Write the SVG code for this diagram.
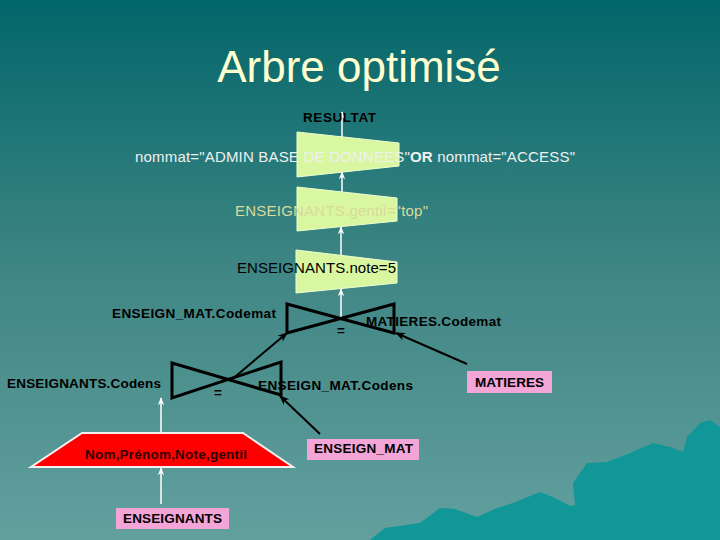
<svg xmlns="http://www.w3.org/2000/svg" width="720" height="540" viewBox="0 0 720 540">
<defs>
<linearGradient id="bg" x1="0" y1="0" x2="0" y2="1">
<stop offset="0" stop-color="#02666A"/>
<stop offset="0.5" stop-color="#3F8684"/>
<stop offset="1" stop-color="#62A09E"/>
</linearGradient>
<marker id="wa" viewBox="0 0 10 10" refX="9" refY="5" markerWidth="8" markerHeight="8" markerUnits="userSpaceOnUse" orient="auto">
<path d="M0,1 L10,5 L0,9 L3,5 Z" fill="#FFFFFF"/>
</marker>
<marker id="ba" viewBox="0 0 10 10" refX="9" refY="5" markerWidth="10" markerHeight="10" markerUnits="userSpaceOnUse" orient="auto">
<path d="M0,1 L10,5 L0,9 L3,5 Z" fill="#000000"/>
</marker>
</defs>
<style>
.t{font-family:"Liberation Sans",Arial,sans-serif}
.b{font-family:"Liberation Sans",Arial,sans-serif;font-weight:bold;font-size:13.5px;fill:#000}
.sel{fill:#D9F7A1;stroke:#EEFFD0;stroke-width:1}
.join{fill:none;stroke:#000;stroke-width:3;stroke-linejoin:miter}
.box{fill:#F2A5D6}
.w{stroke:#FFFFFF;stroke-width:1.5;fill:none;marker-end:url(#wa)}
.k{stroke:#000;stroke-width:2;fill:none;marker-end:url(#ba)}
</style>
<rect width="720" height="540" fill="url(#bg)"/>
<path d="M370,540 L385,528 L420,523 L440,508 L455,509 L477,517 L497,508 L513,503 L540,492 L553,497 L570,506 L575,505 L573,483 L587,463 L607,462 L630,453 L653,443 L670,447 L683,452 L687,437 L700,423 L710,420 L720,427 L720,540 Z" fill="#119797"/>
<text class="t" x="359" y="82" font-size="44" fill="#FFFFD0" text-anchor="middle">Arbre optimisé</text>

<g id="connectors">
<line class="w" x1="342" y1="137" x2="342" y2="112"/>
<line class="w" x1="342" y1="192" x2="342" y2="172"/>
<line class="w" x1="341" y1="255" x2="341" y2="227"/>
<line class="w" x1="341" y1="318" x2="341" y2="289"/>
<line class="w" x1="161" y1="433" x2="161" y2="398"/>
<line class="w" x1="161" y1="504" x2="161" y2="468"/>
<line class="k" x1="230" y1="381" x2="287" y2="333"/>
<line class="k" x1="467" y1="364" x2="396" y2="333"/>
<line class="k" x1="320" y1="434" x2="280" y2="396"/>
</g>

<g id="resultat">
<text class="b" x="339.5" y="122" text-anchor="middle" textLength="73">RESULTAT</text>
</g>

<g id="sel1">
<polygon class="sel" points="297,132 399,143 399,166 297,177"/>
<text class="t" x="135" y="162" font-size="15" fill="#F0F0F0" textLength="440">nommat="ADMIN BASE DE DONNEES"<tspan font-weight="bold">OR</tspan> nommat="ACCESS"</text>
</g>

<g id="sel2">
<polygon class="sel" points="297,187 397,198 397,221 297,231"/>
<text class="t" x="235" y="216" font-size="15" fill="#DADA9A" textLength="193">ENSEIGNANTS.gentil="top"</text>
</g>

<g id="sel3">
<polygon class="sel" points="296,250 397,262 397,283 296,293"/>
<text class="t" x="237" y="273" font-size="15" fill="#000" textLength="159">ENSEIGNANTS.note=5</text>
</g>

<g id="join1">
<polygon class="join" points="287,304 394,333 394,304 287,333"/>
<text class="b" x="112" y="318" textLength="164">ENSEIGN_MAT.Codemat</text>
<text class="b" x="366" y="326" textLength="135">MATIERES.Codemat</text>
<text class="b" x="341" y="335" text-anchor="middle" font-size="12">=</text>
</g>

<g id="join2">
<polygon class="join" points="172,363 281,395 281,362 172,398"/>
<text class="b" x="7" y="388" textLength="154">ENSEIGNANTS.Codens</text>
<text class="b" x="258" y="390" textLength="155">ENSEIGN_MAT.Codens</text>
<text class="b" x="218" y="397" text-anchor="middle" font-size="12">=</text>
</g>

<g id="projection">
<polygon points="82,433 243,433 293,467 31,467" fill="#FF0000" stroke="#F4F0F0" stroke-width="2"/>
<text class="b" x="166" y="459" text-anchor="middle" style="fill:#330000" textLength="162">Nom,Prénom,Note,gentil</text>
</g>

<g id="matieres">
<rect class="box" x="467" y="371" width="85" height="22"/>
<text class="b" x="509.5" y="387" text-anchor="middle" textLength="69">MATIERES</text>
</g>

<g id="enseign_mat">
<rect class="box" x="307" y="439" width="112" height="21"/>
<text class="b" x="363.5" y="453" text-anchor="middle" textLength="99">ENSEIGN_MAT</text>
</g>

<g id="enseignants">
<rect class="box" x="116" y="508" width="113" height="21"/>
<text class="b" x="172.5" y="523" text-anchor="middle" textLength="99">ENSEIGNANTS</text>
</g>
</svg>
